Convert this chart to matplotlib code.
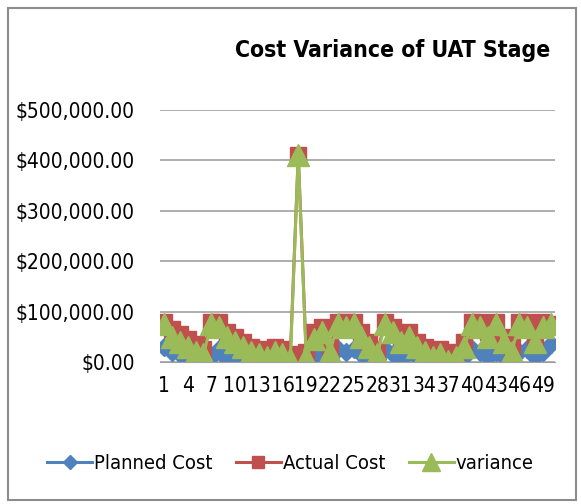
import matplotlib.pyplot as plt
from matplotlib.ticker import FuncFormatter
from matplotlib.patches import Rectangle
from matplotlib import font_manager

# ---- data ----
stages = list(range(1, 51))
planned_cost = [30000, 20000, 15000, 5000, 2000, 2000, 10000, 25000, 5000, 10000,
                15000, 5000, 2000, 5000, 10000, 2000, 5000, 3000, 5000, 10000,
                15000, 5000, 25000, 20000, 25000, 15000, 10000, 5000, 25000, 15000,
                5000, 20000, 10000, 5000, 2000, 5000, 0, 5000, 10000, 25000,
                20000, 10000, 20000, 10000, 5000, 20000, 25000, 10000, 20000, 35000]
actual_cost = [80000, 65000, 55000, 45000, 35000, 25000, 80000, 80000, 60000, 50000,
               40000, 30000, 25000, 20000, 30000, 25000, 15000, 410000, 20000, 60000,
               70000, 30000, 80000, 80000, 80000, 60000, 40000, 20000, 80000, 70000,
               50000, 60000, 40000, 30000, 20000, 25000, 10000, 20000, 40000, 80000,
               80000, 60000, 80000, 50000, 30000, 80000, 80000, 50000, 80000, 75000]
variance = [75000, 50000, 40000, 30000, 20000, 15000, 75000, 70000, 50000, 40000,
            30000, 20000, 15000, 10000, 20000, 15000, 5000, 410000, 10000, 45000,
            60000, 20000, 75000, 70000, 75000, 50000, 30000, 15000, 75000, 60000,
            40000, 50000, 30000, 20000, 10000, 15000, 2000, 10000, 30000, 75000,
            70000, 50000, 75000, 40000, 20000, 75000, 70000, 40000, 70000, 75000]

# narrow font, close to the Excel (Calibri) look
fonts = font_manager.fontManager.ttflist
names = {f.name for f in fonts}
if 'Liberation Sans Narrow' in names:
    plt.rcParams['font.family'] = ['Liberation Sans Narrow', 'DejaVu Sans']
elif any(f.name == 'DejaVu Sans' and 'ondensed' in f.fname for f in fonts):
    plt.rcParams['font.family'] = ['DejaVu Sans']
    plt.rcParams['font.stretch'] = 'condensed'
else:
    plt.rcParams['font.family'] = ['Lato', 'DejaVu Sans']

fig = plt.figure(figsize=(5.81, 5.04), dpi=100)
fig.patches.append(Rectangle((8 / 581, 4 / 504), 568 / 581, 492 / 504, transform=fig.transFigure,
                             fill=False, edgecolor='#8c8c8c', linewidth=1.5))
ax = fig.add_axes([160 / 581, 1 - 362 / 504, 395 / 581, 252 / 504])

ax.plot(stages, planned_cost, color='#4F81BD', marker='D', markersize=9, linewidth=2.2,
        label='Planned Cost')
ax.plot(stages, actual_cost, color='#C0504D', marker='s', markersize=11, linewidth=2.2,
        label='Actual Cost')
ax.plot(stages, variance, color='#9BBB59', marker='^', markersize=16, linewidth=2.2,
        label='variance')

ax.set_xlim(0.5, 50.5)
ax.set_ylim(0, 500000)
ax.set_yticks(range(0, 500001, 100000))
ax.yaxis.set_major_formatter(FuncFormatter(lambda v, p: '${:,.2f}'.format(v)))
ax.set_xticks(stages[::3])
ax.set_xticklabels([str(s) for s in stages[::3]])
ax.grid(axis='y', color='#a0a0a0', linewidth=1.2)
ax.set_axisbelow(True)
for side in ['top', 'right', 'left']:
    ax.spines[side].set_visible(False)
ax.spines['bottom'].set_color('#a0a0a0')
ax.tick_params(axis='both', length=0, labelsize=15, pad=10)
ax.tick_params(axis='y', pad=18)

fig.text(0.675, 0.9, 'Cost Variance of UAT Stage', ha='center', va='center',
         fontsize=16.5, fontweight='bold')
fig.legend(loc='center', bbox_to_anchor=(0.5, 0.08), ncol=3, frameon=False,
           fontsize=14.5, handlelength=2.2, handletextpad=0.1, columnspacing=1.2,
           markerscale=0.8)

fig.savefig('out.png', dpi=100)
